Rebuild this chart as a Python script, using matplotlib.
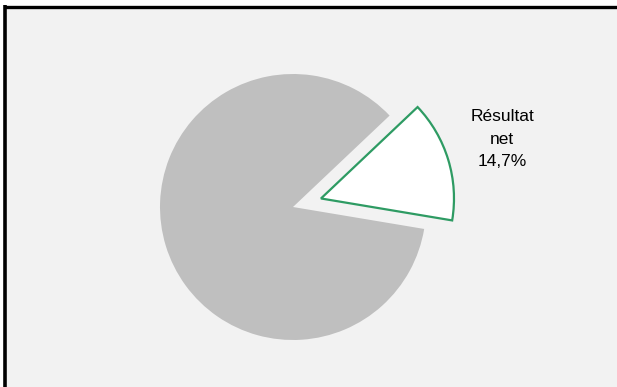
import matplotlib.pyplot as plt
from matplotlib.patches import Rectangle

# pie shares (%)
labels = ["Résultat net", "Autres"]
values = [14.7, 85.3]
colors = ["#ffffff", "#bfbfbf"]

W, H = 617, 387
fig = plt.figure(figsize=(W / 100, H / 100), dpi=100)
fig.patch.set_facecolor("white")

# work in pixel-like data units so the layout is easy to place
ax = fig.add_axes([0, 0, 1, 1])

# panel background + black frame on top and left
ax.add_patch(Rectangle((4.5, 0), W, H - 6.5, facecolor="#f2f2f2", edgecolor="none", zorder=0))
ax.plot([4.5, W], [H - 6.5, H - 6.5], color="black", lw=2.4, solid_capstyle="butt", zorder=1)
ax.plot([4.5, 4.5], [0, H - 5.3], color="black", lw=2.6, solid_capstyle="butt", zorder=1)

radius = 133
# explode is in data units here (radius != 1)
explode = [0.22 * radius, 0.0]
wedges, _ = ax.pie(values, colors=colors, explode=explode, startangle=-9.5,
                   counterclock=True, center=(293, H - 207), radius=radius,
                   wedgeprops=dict(linewidth=0), frame=True)
ax.set_xlim(0, W)
ax.set_ylim(0, H)
ax.set_aspect("equal")
ax.axis("off")
wedges[0].set_edgecolor("#2e9b63")
wedges[0].set_linewidth(1.6)

name = labels[0].replace(" ", "\n")
txt = f"{name}\n{values[0]:.1f}%".replace(".", ",")
ax.text(502, H - 139, txt, ha="center", va="center", fontsize=12.5,
        family="Liberation Sans", linespacing=1.62, color="black")

fig.savefig("out.png", dpi=100)
